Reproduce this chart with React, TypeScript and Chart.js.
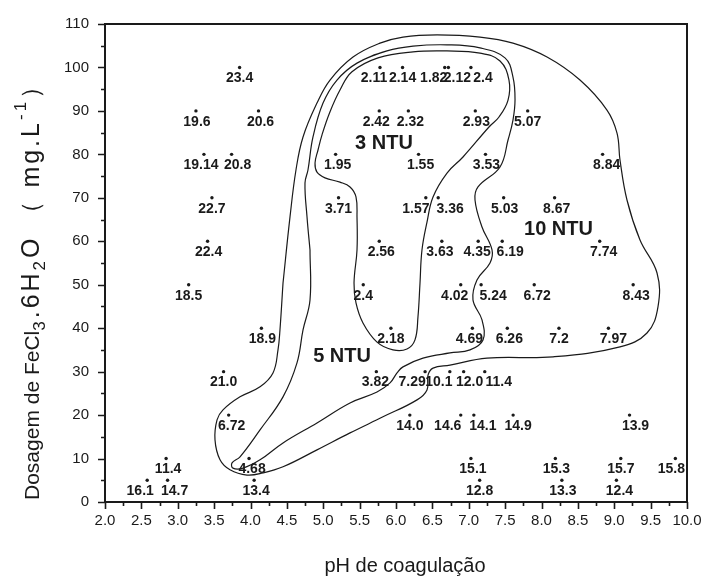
import React, { useEffect, useRef } from "react";
import { Chart, registerables } from "chart.js";

Chart.register(...registerables);

// ---- measured points: coagulation pH, FeCl3.6H2O dose (mg/L), residual turbidity label ----
const pH = [
  3.85, 5.78, 6.09, 6.67, 6.72, 7.03,
  3.25, 4.11, 5.77, 6.17, 7.09, 7.81,
  3.36, 3.74, 5.17, 6.31, 7.23, 8.84,
  3.47, 5.21, 6.41, 6.58, 7.48, 8.18,
  3.41, 5.77, 6.63, 7.13, 7.46, 8.80,
  3.15, 5.55, 6.89, 7.17, 7.90, 9.26,
  4.15, 5.93, 7.05, 7.53, 8.24, 8.92,
  3.63, 5.73, 6.40, 6.74, 6.93, 7.22,
  3.70, 6.19, 6.89, 7.07, 7.61, 9.21,
  2.84, 3.98, 7.03, 8.19, 9.09, 9.84,
  2.58, 2.86, 4.05, 7.15, 8.28, 9.03,
];
const dose = [
  100, 100, 100, 100, 100, 100,
  90, 90, 90, 90, 90, 90,
  80, 80, 80, 80, 80, 80,
  70, 70, 70, 70, 70, 70,
  60, 60, 60, 60, 60, 60,
  50, 50, 50, 50, 50, 50,
  40, 40, 40, 40, 40, 40,
  30, 30, 30, 30, 30, 30,
  20, 20, 20, 20, 20, 20,
  10, 10, 10, 10, 10, 10,
  5, 5, 5, 5, 5, 5,
];
const turbidity = [
  "23.4", "2.11", "2.14", "1.82", "2.12", "2.4",
  "19.6", "20.6", "2.42", "2.32", "2.93", "5.07",
  "19.14", "20.8", "1.95", "1.55", "3.53", "8.84",
  "22.7", "3.71", "1.57", "3.36", "5.03", "8.67",
  "22.4", "2.56", "3.63", "4.35", "6.19", "7.74",
  "18.5", "2.4", "4.02", "5.24", "6.72", "8.43",
  "18.9", "2.18", "4.69", "6.26", "7.2", "7.97",
  "21.0", "3.82", "7.29", "10.1", "12.0", "11.4",
  "6.72", "14.0", "14.6", "14.1", "14.9", "13.9",
  "11.4", "4.68", "15.1", "15.3", "15.7", "15.8",
  "16.1", "14.7", "13.4", "12.8", "13.3", "12.4",
];
// horizontal nudge of each value label (px), same order as above
const labelNudge = [
  0, -6, 0, -11, 9, 12,
  1, 2, -3, 2, 1, 0,
  -3, 6, 2, 2, 1, 4,
  0, 0, -10, 12, 1, 2,
  1, 2, -2, -1, 8, 4,
  0, 0, -6, 12, 3, 3,
  1, 0, -3, 2, 0, 5,
  0, -1, -13, -11, 6, 14,
  3, 0, -13, 9, 5, 6,
  2, 3, 2, 1, 0, -4,
  -7, 7, 2, 0, 1, 3,
];

// ---- iso-turbidity contours (pH, dose) ----
const contour3NTU: [number, number][] = [
  [6.33, 50.4], [6.302, 42.6], [6.261, 37.3], [6.151, 35.2], [5.959, 35.0], [5.739, 36.8],
  [5.546, 41.2], [5.45, 45.8], [5.423, 50.4], [5.464, 58.0], [5.464, 65.6], [5.45, 70.2],
  [5.368, 72.5], [5.23, 73.6], [5.024, 74.6], [4.914, 75.9], [4.887, 78.0], [4.928, 81.0],
  [4.983, 84.5], [5.093, 89.8], [5.23, 94.8], [5.395, 99.0], [5.753, 102.2], [6.234, 103.6],
  [6.701, 103.8], [7.155, 103.3], [7.43, 101.5], [7.553, 97.1], [7.54, 92.5], [7.416, 88.6],
  [7.278, 86.3], [6.921, 79.4], [6.701, 75.7], [6.509, 70.2], [6.426, 64.4], [6.357, 58.0],
];
const contour5NTU: [number, number][] = [
  [4.818, 58.0], [4.818, 46.5], [4.722, 39.6], [4.639, 32.0], [4.447, 24.2], [4.131, 16.6],
  [3.856, 10.4], [3.746, 9.0], [3.759, 7.8], [3.897, 7.8], [4.131, 9.7], [4.447, 13.6],
  [4.914, 18.2], [5.368, 22.8], [5.739, 25.3], [5.918, 27.4], [6.014, 29.7], [6.096, 31.1],
  [6.371, 33.1], [6.742, 34.3], [7.017, 35.0], [7.196, 37.3], [7.182, 41.9], [7.058, 46.5],
  [7.113, 51.1], [7.292, 55.0], [7.32, 58.0], [7.182, 63.3], [7.086, 69.5], [7.127, 72.5],
  [7.43, 77.1], [7.54, 83.3], [7.608, 87.9], [7.636, 92.5], [7.608, 97.8], [7.498, 102.2],
  [7.155, 104.5], [6.701, 105.2], [6.234, 104.9], [5.876, 103.8], [5.464, 101.0], [5.189, 97.1],
  [4.997, 91.8], [4.859, 84.0], [4.79, 76.4], [4.749, 73.4], [4.777, 65.6],
];
const contour10NTU: [number, number][] = [
  [4.447, 50.4], [4.405, 39.6], [4.378, 35.0], [4.309, 29.7], [4.131, 26.5], [3.856, 24.2],
  [3.622, 21.2], [3.54, 18.9], [3.512, 14.3], [3.581, 9.7], [3.718, 7.4], [3.952, 6.2],
  [4.172, 6.7], [4.447, 8.1], [4.914, 12.0], [5.368, 15.9], [5.821, 19.6], [6.289, 23.5],
  [6.426, 25.8], [6.44, 29.2], [6.509, 30.8], [6.742, 31.5], [7.251, 33.1], [8.158, 33.4],
  [9.079, 35.7], [9.45, 38.9], [9.601, 44.9], [9.588, 52.7], [9.354, 60.3], [9.175, 69.5],
  [9.079, 78.7], [9.038, 84.9], [8.9, 90.2], [8.529, 97.1], [8.076, 102.4], [7.608, 105.6],
  [7.155, 107.0], [6.564, 107.5], [6.096, 107.0], [5.78, 105.6], [5.409, 102.4], [5.093, 97.1],
  [4.914, 91.8], [4.722, 84.0], [4.625, 76.4], [4.543, 65.6],
];

const regionNames = ["3 NTU", "5 NTU", "10 NTU"];
const regionPH = [5.835, 5.258, 8.234];
const regionDose = [82.5, 33.5, 62.6];

const xTitle = "pH de coagulação";
// y title pieces: [text, 0 normal | 1 subscript | 2 superscript]
const yTitleParts: [string, number][] = [
  ["Dosagem de FeCl", 0], ["3", 1], [".6H", 0], ["2", 1], ["O", 0],
  [" （ mg.L", 0], ["-1", 2], ["）", 0],
];
const X_MIN = 2, X_MAX = 10, X_STEP = 0.5;
const Y_MIN = 0, Y_MAX = 110, Y_STEP = 10;

const FONT = "'Liberation Sans', Arial, sans-serif";
const INK = "#1a1a1a";

const closeLoop = (c: [number, number][]) =>
  [...c, c[0]].map(([x, y]) => ({ x, y }));

const decorPlugin = {
  id: "decor",
  afterDraw(chart: any) {
    const { ctx, chartArea, scales } = chart;
    const xs = scales.x, ys = scales.y;
    ctx.save();
    ctx.strokeStyle = INK;
    ctx.fillStyle = INK;
    // frame (top and right)
    ctx.lineWidth = 2;
    ctx.beginPath();
    ctx.moveTo(chartArea.left - 1, chartArea.top);
    ctx.lineTo(chartArea.right, chartArea.top);
    ctx.lineTo(chartArea.right, chartArea.bottom + 1);
    ctx.stroke();
    // tick marks
    ctx.lineWidth = 1.6;
    ctx.beginPath();
    for (let v = X_MIN; v <= X_MAX + 1e-9; v += X_STEP / 2) {
      const major = Math.abs(v / X_STEP - Math.round(v / X_STEP)) < 1e-6;
      const px = Math.round(xs.getPixelForValue(v)) + 0.5;
      ctx.moveTo(px, chartArea.bottom);
      ctx.lineTo(px, chartArea.bottom + (major ? 7 : 4));
    }
    for (let v = Y_MIN; v <= Y_MAX + 1e-9; v += Y_STEP / 2) {
      const major = Math.abs(v / Y_STEP - Math.round(v / Y_STEP)) < 1e-6;
      const py = Math.round(ys.getPixelForValue(v)) + 0.5;
      ctx.moveTo(chartArea.left, py);
      ctx.lineTo(chartArea.left - (major ? 7 : 4), py);
    }
    ctx.stroke();

    // value labels
    ctx.font = `bold 14px ${FONT}`;
    ctx.textAlign = "center";
    ctx.textBaseline = "middle";
    for (let i = 0; i < pH.length; i++) {
      const px = xs.getPixelForValue(pH[i]) + labelNudge[i];
      const py = ys.getPixelForValue(dose[i]) + 11;
      ctx.fillText(turbidity[i], px, py);
    }
    // region labels
    ctx.font = `bold 20px ${FONT}`;
    for (let i = 0; i < regionNames.length; i++) {
      ctx.fillText(regionNames[i], xs.getPixelForValue(regionPH[i]), ys.getPixelForValue(regionDose[i]));
    }
    // x title
    ctx.font = `20px ${FONT}`;
    ctx.textBaseline = "alphabetic";
    ctx.fillText(xTitle, (chartArea.left + chartArea.right) / 2 + 9, 572);

    // y title with sub/superscripts
    ctx.translate(39, 500);
    ctx.rotate(-Math.PI / 2);
    ctx.textAlign = "left";
    let x = 0;
    yTitleParts.forEach(([t, k], idx) => {
      const big = idx === 0 ? 21 : 25;
      ctx.font = k === 0 ? `${big}px ${FONT}` : `17px ${FONT}`;
      const dy = k === 1 ? 6 : k === 2 ? -13 : 0;
      const spacing = idx === 0 ? 0 : 3;
      for (const ch of t) {
        ctx.fillText(ch, x, dy);
        x += ctx.measureText(ch).width + spacing;
      }
    });
    ctx.restore();
  },
};

export default function App() {
  const ref = useRef<HTMLCanvasElement | null>(null);
  useEffect(() => {
    if (!ref.current) return;
    const lineDs = (c: [number, number][]) => ({
      data: closeLoop(c),
      showLine: true,
      pointRadius: 0,
      borderColor: INK,
      borderWidth: 1.2,
      tension: 0.4,
      fill: false,
    });
    const chart = new Chart(ref.current, {
      type: "scatter",
      data: {
        datasets: [
          {
            data: pH.map((x, i) => ({ x, y: dose[i] })),
            pointRadius: 1.7,
            pointBackgroundColor: INK,
            pointBorderWidth: 0,
            showLine: false,
          } as any,
          lineDs(contour3NTU),
          lineDs(contour5NTU),
          lineDs(contour10NTU),
        ],
      },
      options: {
        animation: false,
        responsive: false,
        devicePixelRatio: 1,
        layout: { padding: { left: 0, right: 20, top: 24, bottom: 0 } },
        plugins: { legend: { display: false }, tooltip: { enabled: false } },
        scales: {
          x: {
            type: "linear",
            min: X_MIN,
            max: X_MAX,
            afterFit: (s: any) => { s.height = 81; s.paddingLeft = 0; s.paddingRight = 0; },
            ticks: {
              stepSize: X_STEP,
              autoSkip: false,
              maxRotation: 0,
              padding: 10,
              color: INK,
              font: { family: FONT, size: 15 },
              callback: (v: any) => Number(v).toFixed(1),
            },
            grid: { display: false, drawTicks: false },
            border: { display: true, color: INK, width: 2 },
          },
          y: {
            type: "linear",
            min: Y_MIN,
            max: Y_MAX,
            afterFit: (s: any) => { s.width = 105; s.paddingTop = 0; s.paddingBottom = 0; },
            ticks: {
              stepSize: Y_STEP,
              padding: 16,
              color: INK,
              font: { family: FONT, size: 15 },
            },
            grid: { display: false, drawTicks: false },
            border: { display: true, color: INK, width: 2 },
          },
        },
      },
      plugins: [decorPlugin],
    });
    return () => chart.destroy();
  }, []);
  return (
    <div style={{ position: "absolute", left: 0, top: 0, width: 707, height: 583, background: "#fff" }}>
      <canvas ref={ref} width={707} height={583} style={{ width: 707, height: 583 }} />
    </div>
  );
}
